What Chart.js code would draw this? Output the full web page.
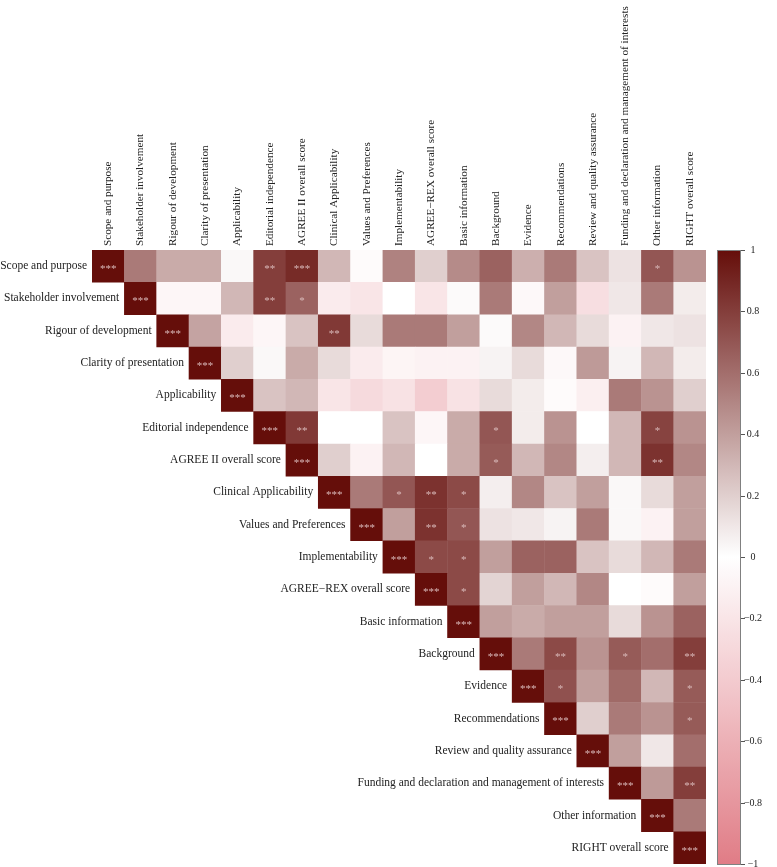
<!DOCTYPE html>
<html>
<head>
<meta charset="utf-8">
<script src="https://cdn.jsdelivr.net/npm/chart.js@4/dist/chart.umd.min.js"></script>
<style>
  html, body { margin: 0; padding: 0; background: #fff; overflow: hidden; }
  canvas { display: block; }
</style>
</head>
<body>
<canvas id="corrChart" width="777" height="867"></canvas>
<script>
// variables, in the order they appear along both axes
const variables = [
  'Scope and purpose', 'Stakeholder involvement', 'Rigour of development',
  'Clarity of presentation', 'Applicability', 'Editorial independence',
  'AGREE II overall score', 'Clinical Applicability', 'Values and Preferences',
  'Implementability', 'AGREE\u2212REX overall score', 'Basic information',
  'Background', 'Evidence', 'Recommendations', 'Review and quality assurance',
  'Funding and declaration and management of interests', 'Other information',
  'RIGHT overall score'
];

// upper triangle, each row starts at the diagonal
const corrScope       = [1, 0.55, 0.35, 0.35, 0.03, 0.8, 0.88, 0.3, -0.03, 0.52, 0.2, 0.48, 0.65, 0.33, 0.55, 0.25, 0.12, 0.7, 0.45];
const corrStakeholder = [1, -0.07, -0.07, 0.3, 0.8, 0.65, -0.15, -0.2, 0.0, -0.2, 0.02, 0.55, -0.05, 0.4, -0.25, 0.1, 0.55, 0.08];
const corrRigour      = [1, 0.38, -0.15, -0.07, 0.25, 0.82, 0.15, 0.55, 0.55, 0.4, 0.02, 0.5, 0.3, 0.15, -0.1, 0.1, 0.12];
const corrClarity     = [1, 0.2, 0.03, 0.35, 0.15, -0.15, -0.08, -0.1, -0.1, 0.05, 0.15, -0.05, 0.42, 0.05, 0.3, 0.08];
const corrApplic      = [1, 0.25, 0.3, -0.2, -0.28, -0.22, -0.38, -0.22, 0.15, 0.08, -0.03, -0.12, 0.55, 0.45, 0.2];
const corrEditorial   = [1, 0.82, 0.0, 0.0, 0.25, -0.07, 0.35, 0.7, 0.08, 0.45, 0.0, 0.3, 0.78, 0.45];
const corrAgree2      = [1, 0.2, -0.1, 0.3, 0.0, 0.35, 0.68, 0.3, 0.5, 0.07, 0.3, 0.85, 0.5];
const corrClinical    = [1, 0.55, 0.7, 0.85, 0.75, 0.07, 0.5, 0.25, 0.4, 0.03, 0.15, 0.4];
const corrValues      = [1, 0.4, 0.85, 0.7, 0.12, 0.1, 0.05, 0.55, 0.03, -0.1, 0.4];
const corrImplement   = [1, 0.75, 0.75, 0.4, 0.65, 0.65, 0.25, 0.15, 0.3, 0.55];
const corrAgreeRex    = [1, 0.75, 0.18, 0.4, 0.3, 0.5, 0.0, -0.03, 0.4];
const corrBasic       = [1, 0.4, 0.35, 0.4, 0.4, 0.15, 0.45, 0.65];
const corrBackground  = [1, 0.55, 0.75, 0.45, 0.68, 0.6, 0.8];
const corrEvidence    = [1, 0.72, 0.4, 0.62, 0.3, 0.68];
const corrRecommend   = [1, 0.2, 0.55, 0.45, 0.68];
const corrReview      = [1, 0.4, 0.1, 0.6];
const corrFunding     = [1, 0.42, 0.8];
const corrOther       = [1, 0.55];
const corrRight       = [1];

// significance marks, same layout as the rows above
const sigScope       = ['***', '', '', '', '', '**', '***', '', '', '', '', '', '', '', '', '', '', '*', ''];
const sigStakeholder = ['***', '', '', '', '**', '*'];
const sigRigour      = ['***', '', '', '', '', '**'];
const sigClarity     = ['***'];
const sigApplic      = ['***'];
const sigEditorial   = ['***', '**', '', '', '', '', '', '*', '', '', '', '', '*', ''];
const sigAgree2      = ['***', '', '', '', '', '', '*', '', '', '', '', '**', ''];
const sigClinical    = ['***', '', '*', '**', '*'];
const sigValues      = ['***', '', '**', '*'];
const sigImplement   = ['***', '*', '*'];
const sigAgreeRex    = ['***', '*'];
const sigBasic       = ['***'];
const sigBackground  = ['***', '', '**', '', '*', '', '**'];
const sigEvidence    = ['***', '*', '', '', '', '*'];
const sigRecommend   = ['***', '', '', '', '*'];
const sigReview      = ['***'];
const sigFunding     = ['***', '', '**'];
const sigOther       = ['***'];
const sigRight       = ['***'];

const corrRows = [corrScope, corrStakeholder, corrRigour, corrClarity, corrApplic, corrEditorial,
  corrAgree2, corrClinical, corrValues, corrImplement, corrAgreeRex, corrBasic, corrBackground,
  corrEvidence, corrRecommend, corrReview, corrFunding, corrOther, corrRight];
const sigRows = [sigScope, sigStakeholder, sigRigour, sigClarity, sigApplic, sigEditorial,
  sigAgree2, sigClinical, sigValues, sigImplement, sigAgreeRex, sigBasic, sigBackground,
  sigEvidence, sigRecommend, sigReview, sigFunding, sigOther, sigRight];

const colorbarTicks = [1, 0.8, 0.6, 0.4, 0.2, 0, -0.2, -0.4, -0.6, -0.8, -1];

const N = variables.length;
const HIGH = [101, 14, 10];
const LOW = [224, 124, 134];
const FONT = '"Liberation Serif", "Times New Roman", serif';

function colorFor(v) {
  const t = Math.min(1, Math.abs(v));
  const end = v >= 0 ? HIGH : LOW;
  const c = end.map(e => Math.round(255 + (e - 255) * t));
  return `rgb(${c[0]},${c[1]},${c[2]})`;
}

const cells = [];
corrRows.forEach((row, i) => {
  row.forEach((v, k) => {
    cells.push({ x: i + k, y: i, v: v, sig: sigRows[i][k] || '' });
  });
});

function cellSide(chart) {
  const a = chart.chartArea;
  if (!a) return 30;
  return (a.right - a.left) / N;
}

const labelsPlugin = {
  id: 'corrLabels',
  afterDatasetsDraw(chart) {
    const ctx = chart.ctx;
    const xs = chart.scales.x, ys = chart.scales.y;
    const meta = chart.getDatasetMeta(0);
    ctx.save();
    // significance stars
    ctx.fillStyle = '#d9b9b9';
    ctx.font = '11px ' + FONT;
    ctx.textAlign = 'center';
    ctx.textBaseline = 'middle';
    meta.data.forEach((pt, idx) => {
      const s = cells[idx].sig;
      if (s) ctx.fillText(s, pt.x, pt.y + 3);
    });
    // row labels, right aligned next to the diagonal
    ctx.fillStyle = '#222';
    ctx.font = '11.5px ' + FONT;
    ctx.textAlign = 'right';
    variables.forEach((name, i) => {
      ctx.fillText(name, xs.getPixelForValue(i - 0.5) - 5, ys.getPixelForValue(i));
    });
    // column labels, rotated above the grid
    ctx.font = '11.2px ' + FONT;
    ctx.textAlign = 'left';
    variables.forEach((name, j) => {
      ctx.save();
      ctx.translate(xs.getPixelForValue(j), chart.chartArea.top - 4);
      ctx.rotate(-Math.PI / 2);
      ctx.fillText(name, 0, 0);
      ctx.restore();
    });
    // colour bar
    const cb = chart.scales.cb;
    const x0 = chart.chartArea.right + 11;
    const w = 24;
    const yTop = cb.getPixelForValue(1), yBot = cb.getPixelForValue(-1);
    const grad = ctx.createLinearGradient(0, yTop, 0, yBot);
    for (let s = 0; s <= 40; s++) {
      grad.addColorStop(s / 40, colorFor(1 - s / 20));
    }
    ctx.fillStyle = grad;
    ctx.fillRect(x0, yTop, w, yBot - yTop);
    ctx.strokeStyle = '#808080';
    ctx.lineWidth = 1;
    ctx.strokeRect(x0 + 0.5, Math.round(yTop) + 0.5, w - 1, Math.round(yBot - yTop));
    ctx.fillStyle = '#222';
    ctx.font = '10px ' + FONT;
    ctx.textAlign = 'center';
    ctx.textBaseline = 'middle';
    colorbarTicks.forEach(t => {
      const y = Math.round(cb.getPixelForValue(t)) + 0.5;
      ctx.beginPath();
      ctx.moveTo(x0 + w, y);
      ctx.lineTo(x0 + w + 4, y);
      ctx.strokeStyle = '#555';
      ctx.stroke();
      const txt = t === 0 ? '0' : (t < 0 ? '\u2212' + String(-t) : String(t));
      ctx.fillText(txt, x0 + w + 12, y);
    });
    ctx.restore();
  }
};

new Chart(document.getElementById('corrChart'), {
  type: 'scatter',
  data: {
    datasets: [{
      data: cells,
      pointStyle: 'rect',
      pointRadius: ctx => cellSide(ctx.chart) / Math.SQRT2 + 0.35,
      pointHoverRadius: ctx => cellSide(ctx.chart) / Math.SQRT2 + 0.35,
      pointBorderWidth: 0,
      pointBackgroundColor: ctx => colorFor(ctx.raw ? ctx.raw.v : 0),
    }]
  },
  plugins: [labelsPlugin],
  options: {
    responsive: false,
    animation: false,
    layout: { autoPadding: false, padding: { left: 92, top: 250, right: 71, bottom: 3 } },
    plugins: { legend: { display: false }, tooltip: { enabled: false } },
    scales: {
      x: { type: 'linear', min: -0.5, max: N - 0.5, display: false },
      y: { type: 'linear', min: -0.5, max: N - 0.5, reverse: true, display: false },
      cb: { type: 'linear', axis: 'y', min: -1, max: 1, display: false }
    }
  }
});
</script>
</body>
</html>
